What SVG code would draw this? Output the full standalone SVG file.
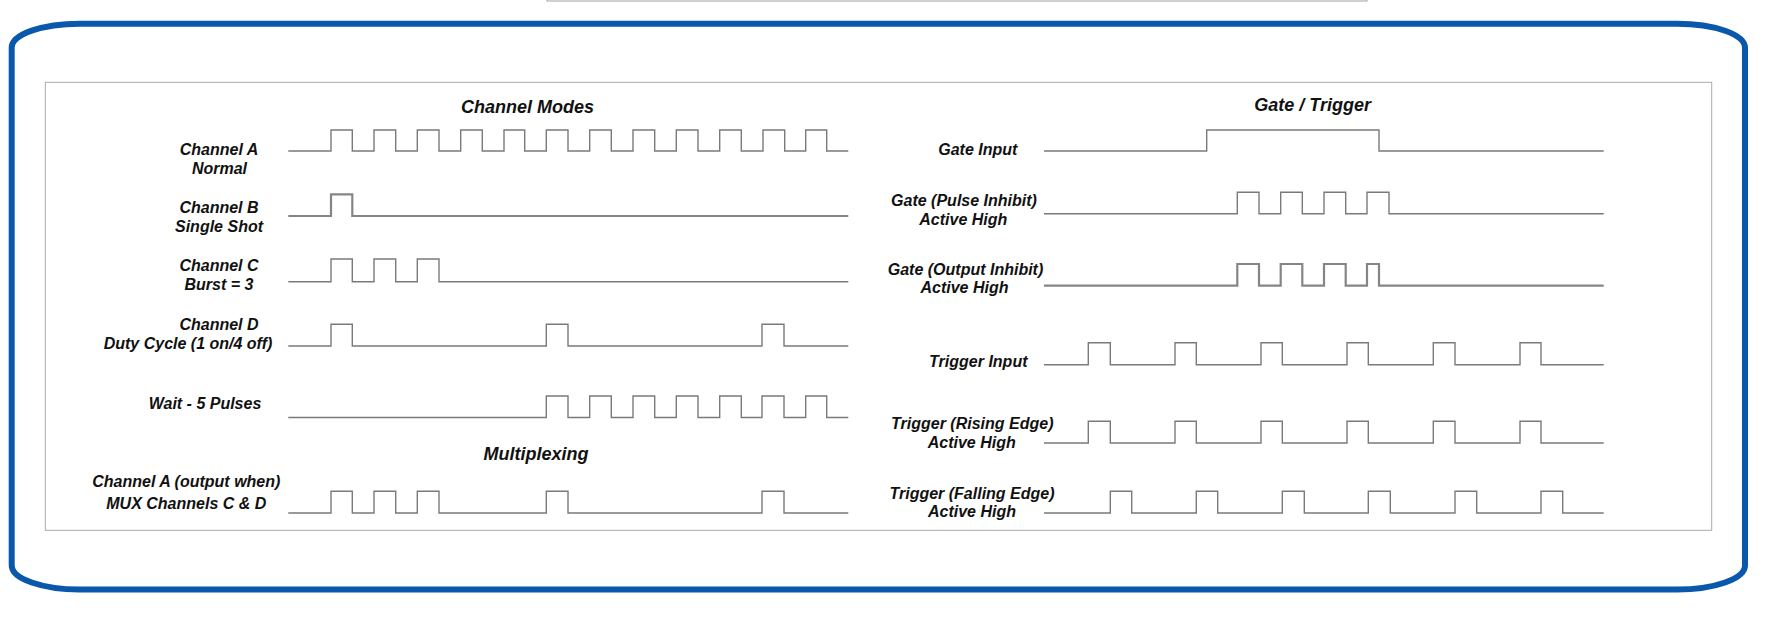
<svg xmlns="http://www.w3.org/2000/svg" width="1766" height="634" viewBox="0 0 1766 634">
<style>
  .lbl { font-family: "Liberation Sans", Arial, sans-serif; font-weight: bold; font-style: italic; font-size: 16px; fill: #111; text-anchor: middle; }
  .ttl { font-family: "Liberation Sans", Arial, sans-serif; font-weight: bold; font-style: italic; font-size: 18px; fill: #111; text-anchor: middle; }
  .wave { fill: none; stroke: #7a7a7a; stroke-width: 1.4; }
  .wave.thick { stroke: #858585; stroke-width: 2.2; }
</style>
<rect width="1766" height="634" fill="#ffffff"/>
<rect id="topbox" x="547" y="-10" width="820" height="11" fill="none" stroke="#a0a0a0" stroke-width="1"/>
<path id="frame" d="M 80,23.7 H 1677 A 68 24 0 0 1 1745 47.7 V 565.5 A 68 24 0 0 1 1677 589.5 H 80 A 68 24 0 0 1 11.7 565.5 V 47.7 A 68 24 0 0 1 80 23.7 Z" fill="none" stroke="#0a58ab" stroke-width="6"/>
<rect id="panel" x="45.3" y="82.3" width="1666.4" height="448" fill="none" stroke="#aaaaaa" stroke-width="1"/>

<g id="titles">
  <text class="ttl" x="527.5" y="113.3">Channel Modes</text>
  <text class="ttl" x="536" y="459.7">Multiplexing</text>
  <text class="ttl" x="1312.7" y="111">Gate / Trigger</text>
</g>

<g id="chA">
  <text class="lbl" x="219" y="154.5">Channel A</text>
  <text class="lbl" x="219.5" y="174">Normal</text>
  <path class="wave" d="M288.3,151 H331 V130 H352.3 V151 H374 V130 H395.7 V151 H417.3 V130 H439 V151 H460.7 V130 H482.3 V151 H504 V130 H524.7 V151 H546.3 V130 H568 V151 H589.7 V130 H611.3 V151 H633 V130 H654.7 V151 H676.3 V130 H698 V151 H719.7 V130 H741.3 V151 H763 V130 H784.7 V151 H805.7 V130 H826.7 V151 H848.3"/>
</g>
<g id="chB">
  <text class="lbl" x="219" y="212.7">Channel B</text>
  <text class="lbl" x="219" y="232.3">Single Shot</text>
  <path class="wave thick" d="M288.3,216 H331 V194.3 H352.3 V216 H848.3"/>
</g>
<g id="chC">
  <text class="lbl" x="219" y="270.7">Channel C</text>
  <text class="lbl" x="219" y="290">Burst = 3</text>
  <path class="wave" d="M288.3,281.7 H331 V259 H352.3 V281.7 H374 V259 H395.7 V281.7 H417.3 V259 H439 V281.7 H848.3"/>
</g>
<g id="chD">
  <text class="lbl" x="219" y="329.7">Channel D</text>
  <text class="lbl" x="188" y="348.7">Duty Cycle (1 on/4 off)</text>
  <path class="wave" d="M288.3,346 H331 V324.3 H352.3 V346 H546.3 V324.3 H568 V346 H762 V324.3 H784 V346 H848.3"/>
</g>
<g id="wait">
  <text class="lbl" x="205" y="408.7">Wait - 5 Pulses</text>
  <path class="wave" d="M288.3,417.5 H546.3 V396 H568 V417.5 H589.7 V396 H611.3 V417.5 H633 V396 H654.7 V417.5 H676.3 V396 H698 V417.5 H719.7 V396 H741.3 V417.5 H762 V396 H784 V417.5 H805.7 V396 H826.7 V417.5 H848.3"/>
</g>
<g id="mux">
  <text class="lbl" x="186.3" y="487">Channel A (output when)</text>
  <text class="lbl" x="186.3" y="509.3">MUX Channels C &amp; D</text>
  <path class="wave" d="M288.3,513 H331 V491.3 H352.3 V513 H374 V491.3 H395.7 V513 H417.3 V491.3 H439 V513 H546.3 V491.3 H568 V513 H762 V491.3 H784 V513 H848.3"/>
</g>

<g id="gateInput">
  <text class="lbl" x="977.8" y="155">Gate Input</text>
  <path class="wave" d="M1044,151 H1206.7 V130 H1379 V151 H1603.7"/>
</g>
<g id="gatePulse">
  <text class="lbl" x="964" y="205.7">Gate (Pulse Inhibit)</text>
  <text class="lbl" x="963.3" y="225">Active High</text>
  <path class="wave" d="M1044,213.7 H1237.3 V192.3 H1259 V213.7 H1280.7 V192.3 H1302.3 V213.7 H1324 V192.3 H1345.7 V213.7 H1367 V192.3 H1389 V213.7 H1603.7"/>
</g>
<g id="gateOutput">
  <text class="lbl" x="965.5" y="275">Gate (Output Inhibit)</text>
  <text class="lbl" x="964.5" y="293.3">Active High</text>
  <path class="wave thick" d="M1044,285.7 H1237.3 V264 H1259 V285.7 H1280.7 V264 H1302.3 V285.7 H1324 V264 H1345.7 V285.7 H1367 V264 H1379 V285.7 H1603.7"/>
</g>
<g id="trigInput">
  <text class="lbl" x="978.3" y="367">Trigger Input</text>
  <path class="wave" d="M1044,364.7 H1088.3 V342.7 H1110.3 V364.7 H1175 V342.7 H1196.3 V364.7 H1261 V342.7 H1282.3 V364.7 H1347 V342.7 H1368.3 V364.7 H1433.3 V342.7 H1455 V364.7 H1520 V342.7 H1541 V364.7 H1603.7"/>
</g>
<g id="trigRising">
  <text class="lbl" x="972.3" y="428.7">Trigger (Rising Edge)</text>
  <text class="lbl" x="971.7" y="447.7">Active High</text>
  <path class="wave" d="M1044,443 H1088.3 V421.3 H1110.3 V443 H1175 V421.3 H1196.3 V443 H1261 V421.3 H1282.3 V443 H1347 V421.3 H1368.3 V443 H1433.3 V421.3 H1455 V443 H1520 V421.3 H1541 V443 H1603.7"/>
</g>
<g id="trigFalling">
  <text class="lbl" x="972" y="499.3">Trigger (Falling Edge)</text>
  <text class="lbl" x="972" y="517">Active High</text>
  <path class="wave" d="M1044,513 H1110.3 V491.3 H1131.7 V513 H1196.3 V491.3 H1217.7 V513 H1282.3 V491.3 H1304.3 V513 H1368.3 V491.3 H1390.3 V513 H1455 V491.3 H1476.7 V513 H1541 V491.3 H1562.7 V513 H1603.7"/>
</g>
</svg>
